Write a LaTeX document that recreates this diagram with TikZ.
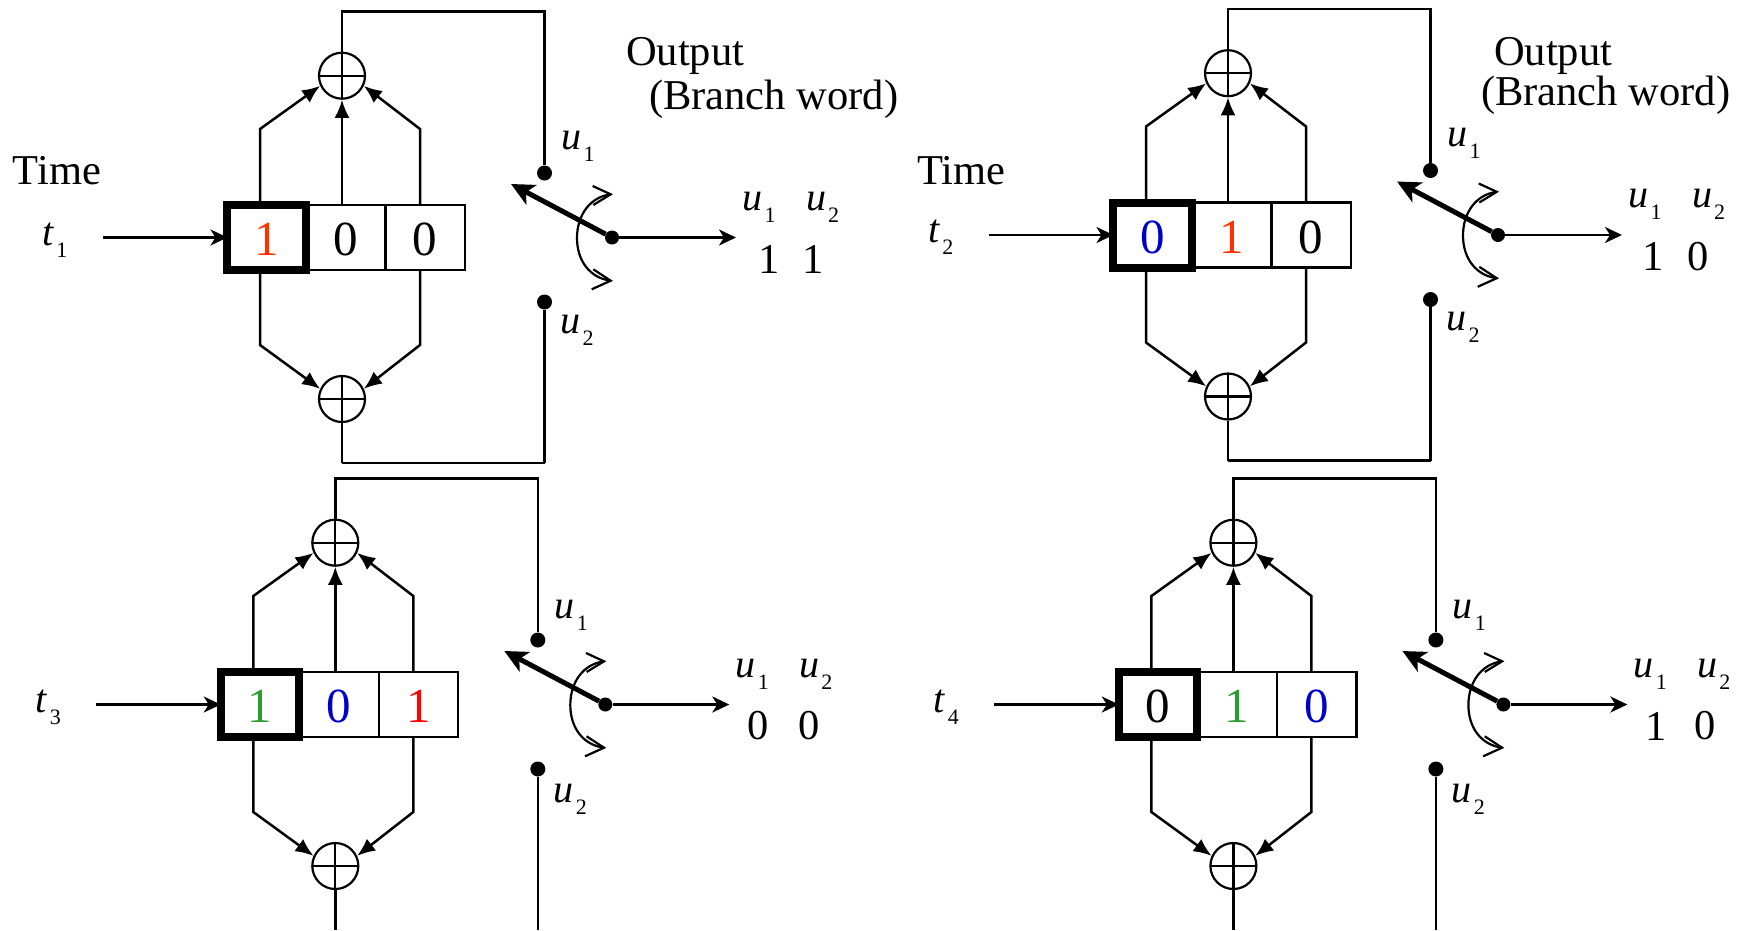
\documentclass[tikz,border=0pt]{standalone}
\usepackage{fontspec}
\setmainfont{Liberation Serif}
\usetikzlibrary{arrows.meta,positioning}
\newcommand{\obit}{\color[HTML]{FF3300}}
\newcommand{\rbit}{\color[HTML]{FF0000}}
\newcommand{\bbit}{\color[HTML]{0000CC}}
\newcommand{\gbit}{\color[HTML]{2E9B33}}
\newcommand{\kbit}{\color{black}}
\newcommand{\sublab}[2]{\textit{#1}\raisebox{-.3em}{\fontsize{22}{22}\selectfont\kern2pt #2}}
\newcommand{\lowbit}[1]{\raisebox{-2pt}[\height][0pt]{#1}}
\tikzset{
    txt/.style={font=\fontsize{42.5}{46}\selectfont,inner sep=0pt},
    lab/.style={font=\fontsize{40}{42}\selectfont,inner sep=0pt},
    wire/.style={line width=2.5pt},
    feed/.style={wire,-{Latex[length=18pt,width=15pt]}},
    flow/.style={wire,-{Stealth[length=17pt,width=16pt,inset=5pt]}},
    arm/.style={line width=5pt,-{Stealth[length=23pt,width=22pt,inset=6pt]}},
    sweep/.style={line width=2.2pt},
    xorgate/.style={draw,circle,line width=2.2pt,minimum size=46pt,inner sep=0pt,
        path picture={\draw[line width=2.2pt] (path picture bounding box.north) -- (path picture bounding box.south)
            (path picture bounding box.west) -- (path picture bounding box.east);}},
    dot/.style={fill,circle,minimum size=15pt,inner sep=0pt},
    pivot/.style={fill,circle,minimum size=14pt,inner sep=0pt},
    regfirst/.style={draw,line width=8pt,minimum width=78.5pt,minimum height=65pt,inner sep=0pt,outer sep=0pt,font=\fontsize{49}{52}\selectfont},
    regcell/.style={draw,line width=2.3pt,minimum width=79.5pt,minimum height=65pt,inner sep=0pt,outer sep=0pt,font=\fontsize{49}{52}\selectfont},
}
\begin{document}
\begin{tikzpicture}[x=1pt,y=-1pt]
    \useasboundingbox (0,0) rectangle (1745,930);
    \foreach \p/\dx/\dy/\tn/\ba/\bb/\bc/\vala/\valb/\xa/\xb/\na/\nb/\nc/\ly in {
        a/0/0/1/\obit/\kbit/\kbit/1/1/769/813/1/0/0/2,
        b/886/-2.5/2/\bbit/\obit/\kbit/1/0/767/812/0/1/0/2,
        c/-6.7/467/3/\gbit/\bbit/\rbit/0/0/765/816/1/0/1/4,
        d/891.4/467/4/\kbit/\gbit/\bbit/1/0/765/814/0/1/0/4}{
        \begin{scope}[shift={(\dx,\dy)}]
            \node[xorgate] (\p-top) at (342,75.7) {};
            \node[xorgate] (\p-bot) at (342,399) {};
            \node[regfirst] (\p-r1) at (266.7,237.5) {\lowbit{\ba\na}};
            \node[regcell,right=0pt of \p-r1] (\p-r2) {\lowbit{\bb\nb}};
            \node[regcell,right=0pt of \p-r2] (\p-r3) {\lowbit{\bc\nc}};
            \node[dot] (\p-ua) at (544.5,173) {};
            \node[dot] (\p-ub) at (544.5,302) {};
            \node[pivot] (\p-sw) at (612,237.5) {};
            \node[lab] (\p-tlab) at (55,240) {\sublab{t}{\tn}};
            \node[lab] (\p-ula) at (578,144+\ly) {\sublab{u}{1}};
            \node[lab] (\p-ulb) at (577,328+\ly) {\sublab{u}{2}};
            \node[lab] (\p-oa) at (759,207) {\sublab{u}{1}};
            \node[lab] (\p-ob) at (822.5,207) {\sublab{u}{2}};
            \node[txt] (\p-va) at (\xa,259) {\vala};
            \node[txt] (\p-vb) at (\xb,259) {\valb};
            \coordinate (\p-in) at (102.5,237.5);
            \coordinate (\p-out) at (736,237.5);
            \coordinate (\p-tip) at (511,184);
            \coordinate (\p-ka) at (260,129);
            \coordinate (\p-kc) at (420,129);
            \coordinate (\p-la) at (260,345);
            \coordinate (\p-lc) at (420,345);
            \coordinate (\p-tl) at (342,11.3);
            \coordinate (\p-tr) at (544.5,11.3);
            \coordinate (\p-bl) at (342,463);
            \coordinate (\p-br) at (544.5,463);
            \coordinate (\p-sa) at (610.7,194.3);
            \coordinate (\p-sm) at (577,238);
            \coordinate (\p-sb) at (610.7,280.7);
            \draw[flow] (\p-in) -- (\p-r1.west);
            \draw[feed] (\p-r1.north -| \p-ka) -- (\p-ka) -- (\p-top.205);
            \draw[feed] (\p-r2.north -| \p-top) -- (\p-top.south);
            \draw[feed] (\p-r3.north -| \p-kc) -- (\p-kc) -- (\p-top.-25);
            \draw[feed] (\p-r1.south -| \p-la) -- (\p-la) -- (\p-bot.155);
            \draw[feed] (\p-r3.south -| \p-lc) -- (\p-lc) -- (\p-bot.25);
            \draw[wire] (\p-top) -- (\p-tl) -- (\p-tr) -- (\p-ua);
            \draw[wire] (\p-bot) -- (\p-bl);
            \draw[wire] (\p-br) -- (\p-ub);
            \draw[flow] (\p-sw) -- (\p-out);
            \draw[arm] (\p-sw) -- (\p-tip);
            \draw[sweep] (\p-sa) .. controls (590,197) and (577,215) .. (\p-sm) .. controls (577,261) and (590,278) .. (\p-sb);
            \draw[sweep] (\p-sa) ++(-18,-8.3) -- (\p-sa) -- ++(-17.4,10.7);
            \draw[sweep] (\p-sb) ++(-17.4,-11.4) -- (\p-sb) -- ++(-19,8.6);
        \end{scope}
    }
    \draw[wire] (a-bl) -- (a-br);
    \draw[wire] (b-bl) -- (b-br);
    \node[txt,anchor=base west] (timea) at (12.7,184) {Time};
    \node[txt,anchor=base west] (timeb) at (917,184) {Time};
    \node[txt,anchor=base west] (outa) at (626,65) {Output};
    \node[txt,anchor=base west] (wordsa) at (649,109) {(Branch word)};
    \node[txt,anchor=base west] (outb) at (1494,65) {Output};
    \node[txt,anchor=base west] (wordsb) at (1481,105) {(Branch word)};
\end{tikzpicture}
\end{document}
